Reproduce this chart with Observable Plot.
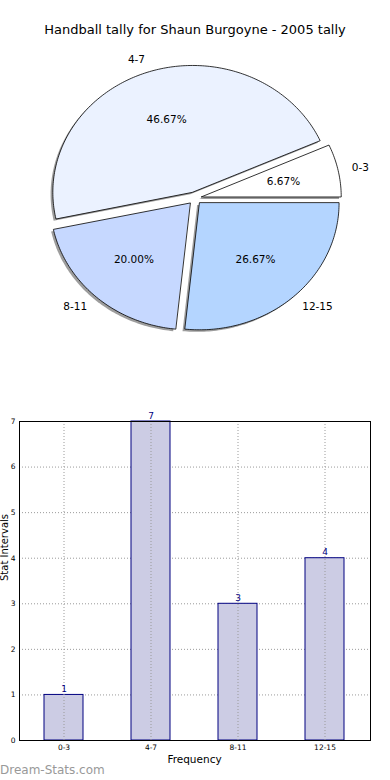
<!DOCTYPE html>
<html>
<head>
<meta charset="utf-8">
<script src="https://cdn.jsdelivr.net/npm/d3@7"></script>
<script src="https://cdn.jsdelivr.net/npm/@observablehq/plot@0.6"></script>
<style>
  html, body { margin: 0; padding: 0; background: #fff; }
  body { width: 390px; height: 780px; position: relative; overflow: hidden; font-family: "DejaVu Sans", sans-serif; }
  .abs { position: absolute; }
  #title { top: 22px; left: 0; width: 390px; text-align: center; font-size: 13px; line-height: 16px; color: #000; }
  #pie { top: 40px; left: 0; }
  #bar { top: 400px; left: 0; }
  #xlabel { top: 753px; left: 19px; width: 351px; text-align: center; font-size: 10.5px; color: #000; }
  #wm { top: 763px; left: 0px; font-size: 12px; color: #999; }
</style>
</head>
<body>
<div id="title" class="abs">Handball tally for Shaun Burgoyne - 2005 tally</div>
<div id="pie" class="abs"></div>
<div id="bar" class="abs"></div>
<div id="xlabel" class="abs">Frequency</div>
<div id="wm" class="abs">Dream-Stats.com</div>
<script>
const categories = ["0-3", "4-7", "8-11", "12-15"];
const values = [1, 7, 3, 4];
const sliceColors = ["#ffffff", "#ebf2ff", "#c6d8ff", "#b4d5ff"];
const yTicks = [0, 1, 2, 3, 4, 5, 6, 7];

// ---------- Pie ----------
const total = d3.sum(values);
const explode = 0.05;
let acc = 0;
const slices = categories.map((c, i) => {
  const a0 = acc / total * 2 * Math.PI;
  acc += values[i];
  const a1 = acc / total * 2 * Math.PI;
  const am = (a0 + a1) / 2;
  const ox = explode * Math.cos(am), oy = explode * Math.sin(am);
  return {cat: c, value: values[i], a0, a1, am, ox, oy, color: sliceColors[i]};
});
function slicePoints(s, dx, dy, key) {
  const pts = [{x: s.ox + dx, y: s.oy + dy, k: key}];
  const n = Math.max(2, Math.ceil((s.a1 - s.a0) / (Math.PI / 180)));
  for (let j = 0; j <= n; j++) {
    const a = s.a0 + (s.a1 - s.a0) * j / n;
    pts.push({x: s.ox + dx + Math.cos(a), y: s.oy + dy + Math.sin(a), k: key});
  }
  return pts;
}
const shadowPts = slices.flatMap(s => slicePoints(s, -0.016, -0.016, s.cat));
const wedgePts = slices.flatMap(s => slicePoints(s, 0, 0, s.cat));
const labelPts = slices.map(s => ({
  x: s.ox + 1.1 * Math.cos(s.am), y: s.oy + 1.1 * Math.sin(s.am), text: s.cat
}));
const pctPts = slices.map(s => ({
  x: s.ox + 0.6 * Math.cos(s.am), y: s.oy + 0.6 * Math.sin(s.am),
  text: (s.value / total * 100).toFixed(2) + "%"
}));

const rx = 139.7, ry = 126.8, cxp = 194.2, cyp = 157.8, W = 390, H = 320;
const pie = Plot.plot({
  width: W, height: H,
  margin: 0,
  x: {domain: [-cxp / rx, (W - cxp) / rx], axis: null},
  y: {domain: [-(H - cyp) / ry, cyp / ry], axis: null},
  color: {domain: categories, range: sliceColors},
  style: {fontFamily: "DejaVu Sans, sans-serif", background: "transparent"},
  marks: [
    Plot.line(shadowPts, {x: "x", y: "y", z: "k", curve: "linear-closed", fill: "#4d4d4d", fillOpacity: 0.55, stroke: "none"}),
    Plot.line(wedgePts, {x: "x", y: "y", z: "k", curve: "linear-closed", fill: "k", stroke: "#000", strokeWidth: 0.8, strokeLinejoin: "miter"}),
    Plot.text(labelPts.filter(d => d.x > 0), {x: "x", y: "y", text: "text", textAnchor: "start", fontSize: 10.5, fill: "#000"}),
    Plot.text(labelPts.filter(d => d.x <= 0), {x: "x", y: "y", text: "text", textAnchor: "end", fontSize: 10.5, fill: "#000"}),
    Plot.text(pctPts, {x: "x", y: "y", text: "text", fontSize: 10.5, fill: "#000"})
  ]
});
document.getElementById("pie").appendChild(pie);

// ---------- Bar ----------
const barData = categories.map((c, i) => ({cat: c, value: values[i]}));
const bar = Plot.plot({
  width: 390, height: 380,
  marginLeft: 19, marginRight: 20, marginTop: 21, marginBottom: 40,
  x: {domain: categories, paddingInner: 0.55, paddingOuter: 0.275, label: null},
  y: {domain: [0, 7], label: null},
  style: {fontFamily: "DejaVu Sans, sans-serif", background: "transparent"},
  marks: [
    Plot.gridY(yTicks, {stroke: "#9a9a9a", strokeOpacity: 1, strokeDasharray: "1,2"}),
    Plot.barY(barData, {x: "cat", y: "value", fill: "#ccccE4", stroke: "#000080", strokeWidth: 1, inset: 0}),
    Plot.gridX(categories, {stroke: "#9a9a9a", strokeOpacity: 1, strokeDasharray: "1,2"}),
    Plot.text(barData, {x: "cat", y: "value", text: d => String(d.value), lineAnchor: "bottom", dy: -3, fill: "#000080", fontSize: 9}),
    Plot.frame({stroke: "#000", strokeWidth: 1}),
    Plot.axisY(yTicks, {tickSize: 0, tickPadding: 4, fontSize: 7.5, label: null, tickFormat: d => String(d)}),
    Plot.axisX(categories, {tickSize: 0, tickPadding: 4, fontSize: 7.5, label: null}),
    Plot.text(["Stat Intervals"], {frameAnchor: "left", rotate: -90, dx: -14.5, fontSize: 10, fill: "#000"})
  ]
});
document.getElementById("bar").appendChild(bar);
</script>
</body>
</html>
